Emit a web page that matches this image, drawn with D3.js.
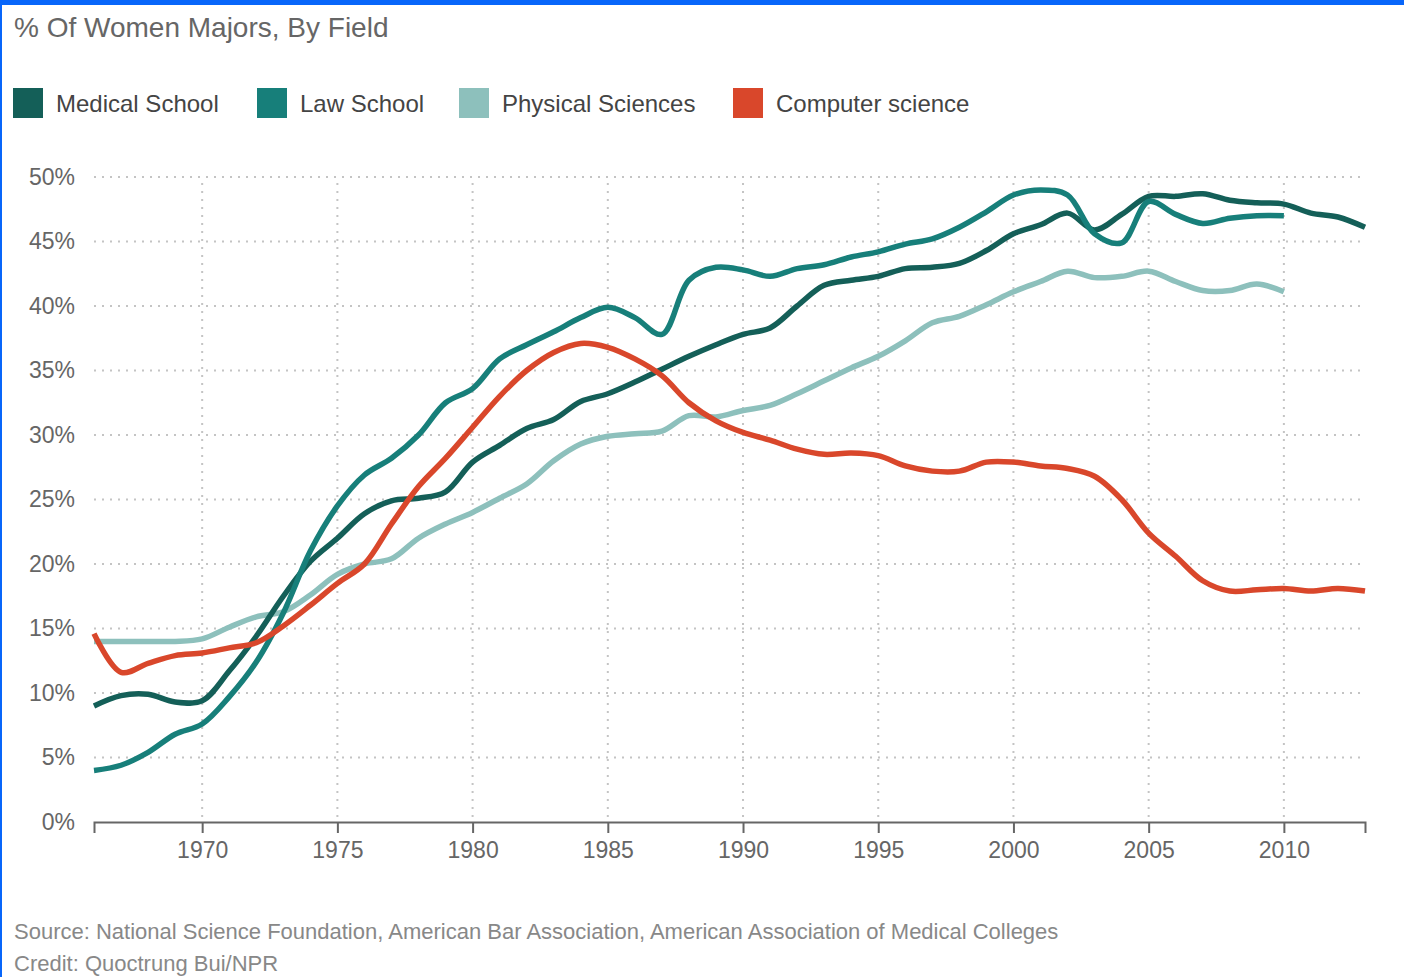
<!DOCTYPE html>
<html>
<head>
<meta charset="utf-8">
<script src="https://cdn.jsdelivr.net/npm/d3@7"></script>
<style>
  body { margin: 0; background: #fff; }
  svg { display: block; font-family: "Liberation Sans", Arial, Helvetica, sans-serif; }
</style>
</head>
<body>
<svg id="chart"></svg>
<script>
// data (percent of women majors)
const years = d3.range(1966, 2014);

const medical = [9.0, 9.8, 9.9, 9.3, 9.4, 11.7, 14.4, 17.5, 20.2, 22.0,
  23.9, 24.9, 25.1, 25.6, 27.9, 29.2, 30.5, 31.2, 32.6, 33.2,
  34.1, 35.1, 36.1, 37.0, 37.8, 38.3, 40.0, 41.6, 42.0, 42.3,
  42.9, 43.0, 43.3, 44.3, 45.6, 46.3, 47.2, 45.9, 47.1, 48.5,
  48.5, 48.7, 48.2, 48.0, 47.9, 47.2, 46.9, 46.1];

const law = [4.0, 4.4, 5.4, 6.8, 7.6, 9.7, 12.4, 16.2, 21.0, 24.5,
  26.9, 28.2, 30.0, 32.5, 33.6, 35.9, 37.0, 38.0, 39.1, 39.9,
  39.1, 37.8, 42.0, 43.0, 42.8, 42.3, 42.9, 43.2, 43.8, 44.2,
  44.8, 45.2, 46.1, 47.3, 48.6, 49.0, 48.6, 45.6, 44.9, 48.1,
  47.1, 46.4, 46.8, 47.0, 47.0];

const physical = [14.0, 14.0, 14.0, 14.0, 14.2, 15.1, 15.9, 16.3, 17.6, 19.2,
  20.0, 20.4, 22.0, 23.1, 24.0, 25.1, 26.2, 28.0, 29.3, 29.9,
  30.1, 30.3, 31.5, 31.4, 31.9, 32.3, 33.2, 34.2, 35.2, 36.1,
  37.3, 38.7, 39.2, 40.1, 41.1, 41.9, 42.7, 42.2, 42.3, 42.7,
  41.9, 41.2, 41.2, 41.7, 41.1];

const compsci = [14.6, 11.6, 12.3, 12.9, 13.1, 13.5, 13.9, 15.2, 16.8, 18.5,
  20.0, 23.1, 26.0, 28.2, 30.6, 33.0, 35.0, 36.4, 37.1, 36.8,
  35.9, 34.6, 32.5, 31.1, 30.2, 29.6, 28.9, 28.5, 28.6, 28.4,
  27.6, 27.2, 27.2, 27.9, 27.9, 27.6, 27.4, 26.8, 25.0, 22.4,
  20.6, 18.7, 17.9, 18.0, 18.1, 17.9, 18.1, 17.9];

const seriesNames = ['Medical School', 'Law School', 'Physical Sciences', 'Computer science'];
const seriesColors = ['#145f58', '#177f7a', '#8dc0bc', '#d9472b'];
const yTicks = [0, 5, 10, 15, 20, 25, 30, 35, 40, 45, 50];
const xTicks = [1970, 1975, 1980, 1985, 1990, 1995, 2000, 2005, 2010];

const width = 1404, height = 977;
const margin = { top: 177, right: 39, bottom: 155, left: 94 };

const svg = d3.select('#chart')
  .attr('width', width)
  .attr('height', height);

// blue frame on top and left
svg.append('rect').attr('x', 0).attr('y', 0).attr('width', width).attr('height', 5).attr('fill', '#0866fa');
svg.append('rect').attr('x', 0).attr('y', 0).attr('width', 2).attr('height', height).attr('fill', '#0866fa');

// title
svg.append('text')
  .attr('x', 14).attr('y', 37)
  .attr('fill', '#666')
  .attr('font-size', 28)
  .text('% Of Women Majors, By Field');

// legend
const legendX = [13, 257, 459, 733];
const legend = svg.append('g')
  .selectAll('g')
  .data(seriesNames)
  .join('g')
  .attr('transform', (d, i) => `translate(${legendX[i]},88)`);
legend.append('rect')
  .attr('width', 30).attr('height', 30)
  .attr('fill', (d, i) => seriesColors[i]);
legend.append('text')
  .attr('x', 43).attr('y', 24)
  .attr('font-size', 24)
  .attr('fill', '#444')
  .text(d => d);

// scales
const x = d3.scaleLinear().domain([1966, 2013]).range([margin.left, width - margin.right]);
const y = d3.scaleLinear().domain([0, 50]).range([height - margin.bottom, margin.top]);

// horizontal grid
svg.append('g')
  .selectAll('line')
  .data(yTicks.filter(t => t > 0))
  .join('line')
  .attr('x1', x(1966)).attr('x2', x(2013))
  .attr('y1', d => y(d)).attr('y2', d => y(d))
  .attr('stroke', '#c4c4c4')
  .attr('stroke-width', 2)
  .attr('stroke-dasharray', '2,6');

// vertical grid
svg.append('g')
  .selectAll('line')
  .data(xTicks)
  .join('line')
  .attr('x1', d => x(d)).attr('x2', d => x(d))
  .attr('y1', y(50) + 6).attr('y2', y(0))
  .attr('stroke', '#c4c4c4')
  .attr('stroke-width', 2)
  .attr('stroke-dasharray', '2,6');

// y labels
svg.append('g')
  .attr('transform', `translate(75,0)`)
  .call(d3.axisLeft(y).tickValues(yTicks).tickSize(0).tickPadding(0).tickFormat(d => d + '%'))
  .call(g => g.select('.domain').remove())
  .call(g => g.selectAll('text')
    .attr('font-family', null)
    .attr('font-size', 23)
    .attr('fill', '#666'));

// x axis
svg.append('g')
  .attr('transform', `translate(0,${y(0)})`)
  .call(d3.axisBottom(x).tickValues(xTicks).tickSize(11).tickSizeOuter(11).tickPadding(9).tickFormat(d3.format('d')))
  .call(g => g.select('.domain').attr('stroke', '#666').attr('stroke-width', 2))
  .call(g => g.selectAll('.tick line').attr('stroke', '#666').attr('stroke-width', 2))
  .call(g => g.selectAll('text')
    .attr('font-family', null)
    .attr('font-size', 23)
    .attr('fill', '#666'));

// lines
const allSeries = [medical, law, physical, compsci];
const drawOrder = [2, 0, 1, 3];
const line = d3.line()
  .x((d, i) => x(years[i]))
  .y(d => y(d))
  .curve(d3.curveCatmullRom.alpha(0.5));

svg.append('g')
  .attr('fill', 'none')
  .attr('stroke-width', 5.5)
  .attr('stroke-linejoin', 'round')
  .selectAll('path')
  .data(drawOrder)
  .join('path')
  .attr('stroke', i => seriesColors[i])
  .attr('d', i => line(allSeries[i]));

// footer
svg.append('text')
  .attr('x', 14).attr('y', 939)
  .attr('font-size', 22)
  .attr('fill', '#888')
  .text('Source: National Science Foundation, American Bar Association, American Association of Medical Colleges');
svg.append('text')
  .attr('x', 14).attr('y', 971)
  .attr('font-size', 22)
  .attr('fill', '#888')
  .text('Credit: Quoctrung Bui/NPR');
</script>
</body>
</html>
